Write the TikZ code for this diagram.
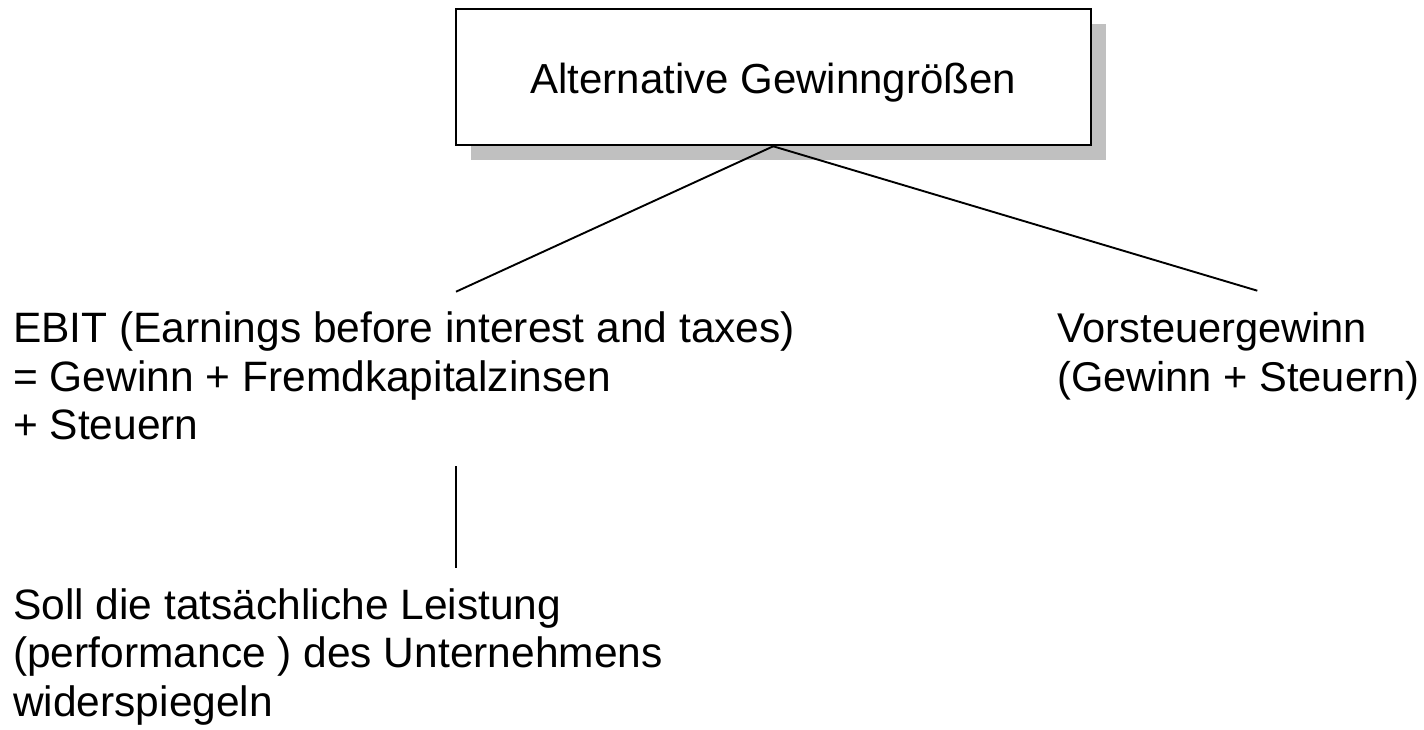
\documentclass[tikz,border=0pt]{standalone}
\usepackage{fontspec}
\setmainfont{Liberation Sans}
\usetikzlibrary{shadows}
\definecolor{shadowgray}{HTML}{C0C0C0}
\tikzset{
  txt/.style={inner sep=0pt, align=left, font=\fontsize{42.5}{48.6}\selectfont},
  titlebox/.style={draw=black, line width=2.2pt, fill=white, inner sep=0pt,
    minimum width=635pt, minimum height=136pt, text height=32pt, text depth=0pt,
    font=\fontsize{42}{48}\selectfont,
    general shadow={fill=shadowgray, shadow xshift=15pt, shadow yshift=-15pt}},
  conn/.style={draw=black, line width=1.9pt}
}
\begin{document}
\begin{tikzpicture}[x=1pt,y=-1pt]
\useasboundingbox (0,0) rectangle (1424,730);
\node[titlebox] (title) at (773.2,77.2) {Alternative Gewinngrößen};
\node[txt, anchor=base west] (ebit) at (13,439.9) {EBIT (Earnings before interest and taxes)\\= Gewinn + Fremdkapitalzinsen\\+ Steuern};
\node[txt, anchor=base west, font=\fontsize{41.6}{48.6}\selectfont] (vst) at (1057,391.3) {Vorsteuergewinn\\(Gewinn + Steuern)};
\node[txt, anchor=base west] (soll) at (13,716.5) {Soll die tatsächliche Leistung\\(performance ) des Unternehmens\\widerspiegeln};
\coordinate (ebitTop) at (456,291.7);
\coordinate (vstTop) at (1257.3,290.7);
\coordinate (ebitBot) at (456,466);
\coordinate (sollTop) at (456,568.3);
\draw[conn] (title.south) -- (ebitTop);
\draw[conn] (title.south) -- (vstTop);
\draw[conn] (ebitBot) -- (sollTop);
\end{tikzpicture}
\end{document}
